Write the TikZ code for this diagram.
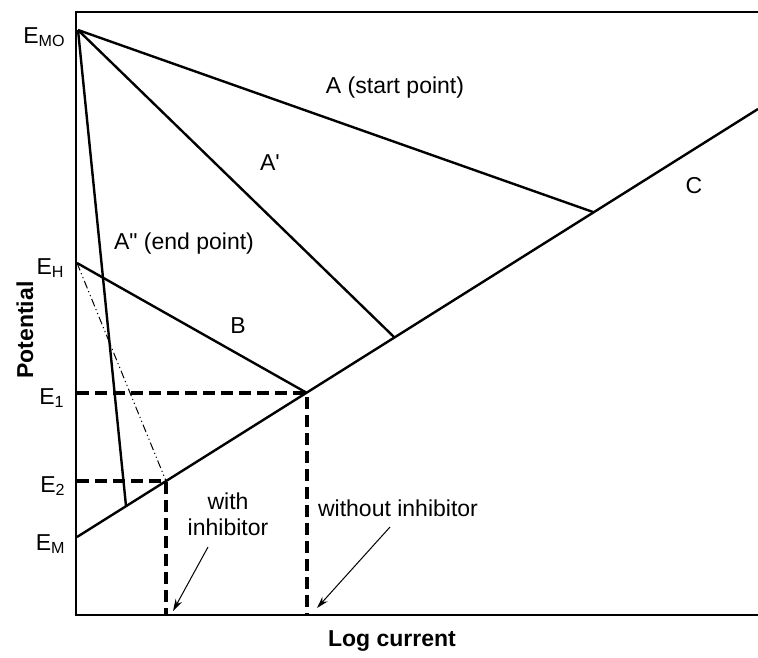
\documentclass[tikz,border=0pt]{standalone}
\usepackage{fontspec}
\setmainfont{Liberation Sans}
\usepackage{tikz}
\usetikzlibrary{arrows.meta}

\tikzset{
  curve/.style={line width=1.2pt},
  guide/.style={line width=1.8pt, dash pattern=on 6pt off 3pt},
  inhib/.style={line width=0.5pt, dash pattern=on 4pt off 1.5pt on 0.6pt off 1.5pt on 0.6pt off 1.5pt},
  pointer/.style={line width=0.5pt, -{Stealth[length=6pt,width=3.5pt]}},
  lbl/.style={font=\fontsize{11.5}{13}\selectfont, inner sep=0pt},
  elbl/.style={lbl, anchor=east}
}

\begin{document}
\begin{tikzpicture}[x=0.5pt, y=-0.5pt]
      \useasboundingbox (0,0) rectangle (758,657);
      % frame
      \draw [line width=1pt] (758,12) -- (76,12) -- (76,615) -- (758,615);
      % points on the potential axis and crossings
      \coordinate (EMO) at (78,30);
      \coordinate (EH) at (77,263);
      \coordinate (EM) at (77,537);
      \coordinate (P1) at (307,393);
      \coordinate (P2) at (166,481);
      \coordinate (PA) at (593,212);
      \coordinate (PA1) at (394,337);
      \coordinate (PA2) at (126,506);
      \coordinate (Cend) at (758,109);
      \coordinate (E1a) at (77,393);
      \coordinate (E2a) at (77,481);
      \coordinate (X1) at (307,615);
      \coordinate (X2) at (166,615);
      % polarisation lines
      \draw [curve] (EMO) -- (PA);
      \draw [curve] (EMO) -- (PA1);
      \draw [curve] (EMO) -- (PA2);
      \draw [curve] (EH) -- (P1);
      \draw [curve] (EM) -- (Cend);
      \draw [inhib] (EH) -- (P2);
      % potentials and currents
      \draw [guide] (E1a) -- (P1) -- (X1);
      \draw [guide] (E2a) -- (P2) -- (X2);
      % labels
      \node [elbl] (lEMO) at (66,37) {E\textsubscript{MO}};
      \node [elbl] (lEH) at (65,268) {E\textsubscript{H}};
      \node [elbl] (lE1) at (65,398) {E\textsubscript{1}};
      \node [elbl] (lE2) at (66,486) {E\textsubscript{2}};
      \node [elbl] (lEM) at (66,544) {E\textsubscript{M}};
      \node [lbl] (lA) at (395,88) {A (start point)};
      \node [lbl] (lA1) at (270,163) {A\textquotesingle};
      \node [lbl] (lA2) at (184,244) {A\textquotedbl{} (end point)};
      \node [lbl] (lB) at (238,326) {B};
      \node [lbl] (lC) at (694,186) {C};
      \node [lbl, align=center] (lwith) at (228,514) {with\\inhibitor};
      \node [lbl] (lwithout) at (398,508) {without inhibitor};
      \node [lbl, font=\fontsize{11.5}{13}\selectfont\bfseries] (lLog) at (392,641) {Log current};
      \node [lbl, font=\fontsize{11.5}{13}\selectfont\bfseries, rotate=90] (lPot) at (25,330) {Potential};
      % arrows
      \coordinate (T2) at (173,611);
      \coordinate (T1) at (317,608);
      \draw [pointer] (208,547) -- (T2);
      \draw [pointer] (390,527) -- (T1);
\end{tikzpicture}
\end{document}
